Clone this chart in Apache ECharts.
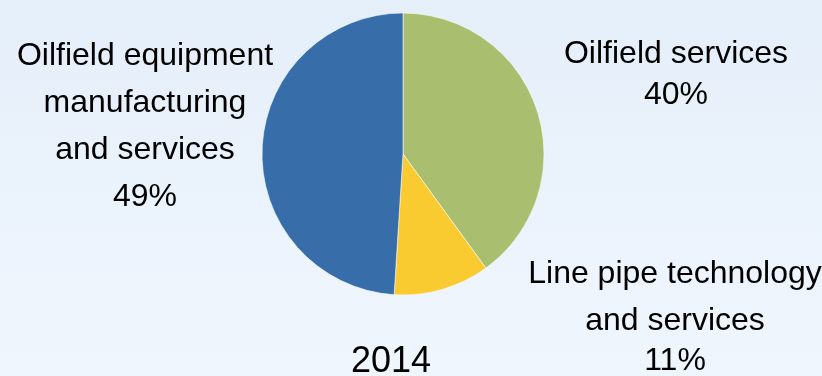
<!DOCTYPE html>
<html>
<head>
<meta charset="utf-8">
<script src="https://cdn.jsdelivr.net/npm/echarts@6/dist/echarts.min.js"></script>
<style>
  html, body { margin: 0; padding: 0; background: #eaf2fb; }
  #chart { width: 822px; height: 376px; }
</style>
</head>
<body>
<div id="chart"></div>
<script>
// Segment names (clockwise from 12 o'clock) and their shares in percent
const categories = [
  'Oilfield services',
  'Line pipe technology and services',
  'Oilfield equipment manufacturing and services'
];
const labelLines = [
  ['Oilfield services'],
  ['Line pipe technology', 'and services'],
  ['Oilfield equipment', 'manufacturing', 'and services']
];
const shares = [40, 11, 49];
const yearLabel = '2014';

const sliceColors = ['#a9bf6f', '#f9cb31', '#376eaa'];
const FONT = '"Liberation Sans", Arial, sans-serif';

// label anchor centres and per-line heights for each segment
const labelPos = [[676, 75], [675, 314], [145, 127]];
const lineHeights = [[41, 41], [50, 44, 36], [47, 47, 47, 47]];

const rich = {};
[36, 41, 44, 47, 50].forEach(function (h) {
  rich['h' + h] = { fontSize: 32, lineHeight: h, color: '#000', fontFamily: FONT };
});

const chart = echarts.init(document.getElementById('chart'), null, { renderer: 'canvas' });

chart.setOption({
  backgroundColor: new echarts.graphic.LinearGradient(0, 0, 0, 1, [
    { offset: 0, color: '#e5eff9' },
    { offset: 1, color: '#f0f6fe' }
  ]),
  animation: false,
  series: [{
    type: 'pie',
    center: [403, 154],
    radius: 141,
    startAngle: 90,
    clockwise: true,
    avoidLabelOverlap: false,
    itemStyle: { borderColor: 'rgba(255,255,255,0.55)', borderWidth: 1 },
    label: {
      show: true,
      position: 'outside',
      alignTo: 'none',
      align: 'center',
      rich: rich,
      formatter: function (p) {
        const i = p.dataIndex;
        const lines = labelLines[i].concat(p.value + '%');
        return lines.map(function (t, k) {
          return '{h' + lineHeights[i][k] + '|' + t + '}';
        }).join('\n');
      }
    },
    labelLine: { show: false },
    labelLayout: function (p) {
      const pos = labelPos[p.dataIndex];
      return { x: pos[0], y: pos[1], align: 'center', verticalAlign: 'middle', hideOverlap: false };
    },
    data: categories.map(function (name, i) {
      return { name: name, value: shares[i], itemStyle: { color: sliceColors[i] } };
    })
  }],
  graphic: [{
    type: 'text',
    x: 391,
    y: 362,
    style: {
      text: yearLabel,
      align: 'center',
      verticalAlign: 'middle',
      fontSize: 36,
      fontFamily: FONT,
      fill: '#000'
    }
  }]
});
</script>
</body>
</html>
